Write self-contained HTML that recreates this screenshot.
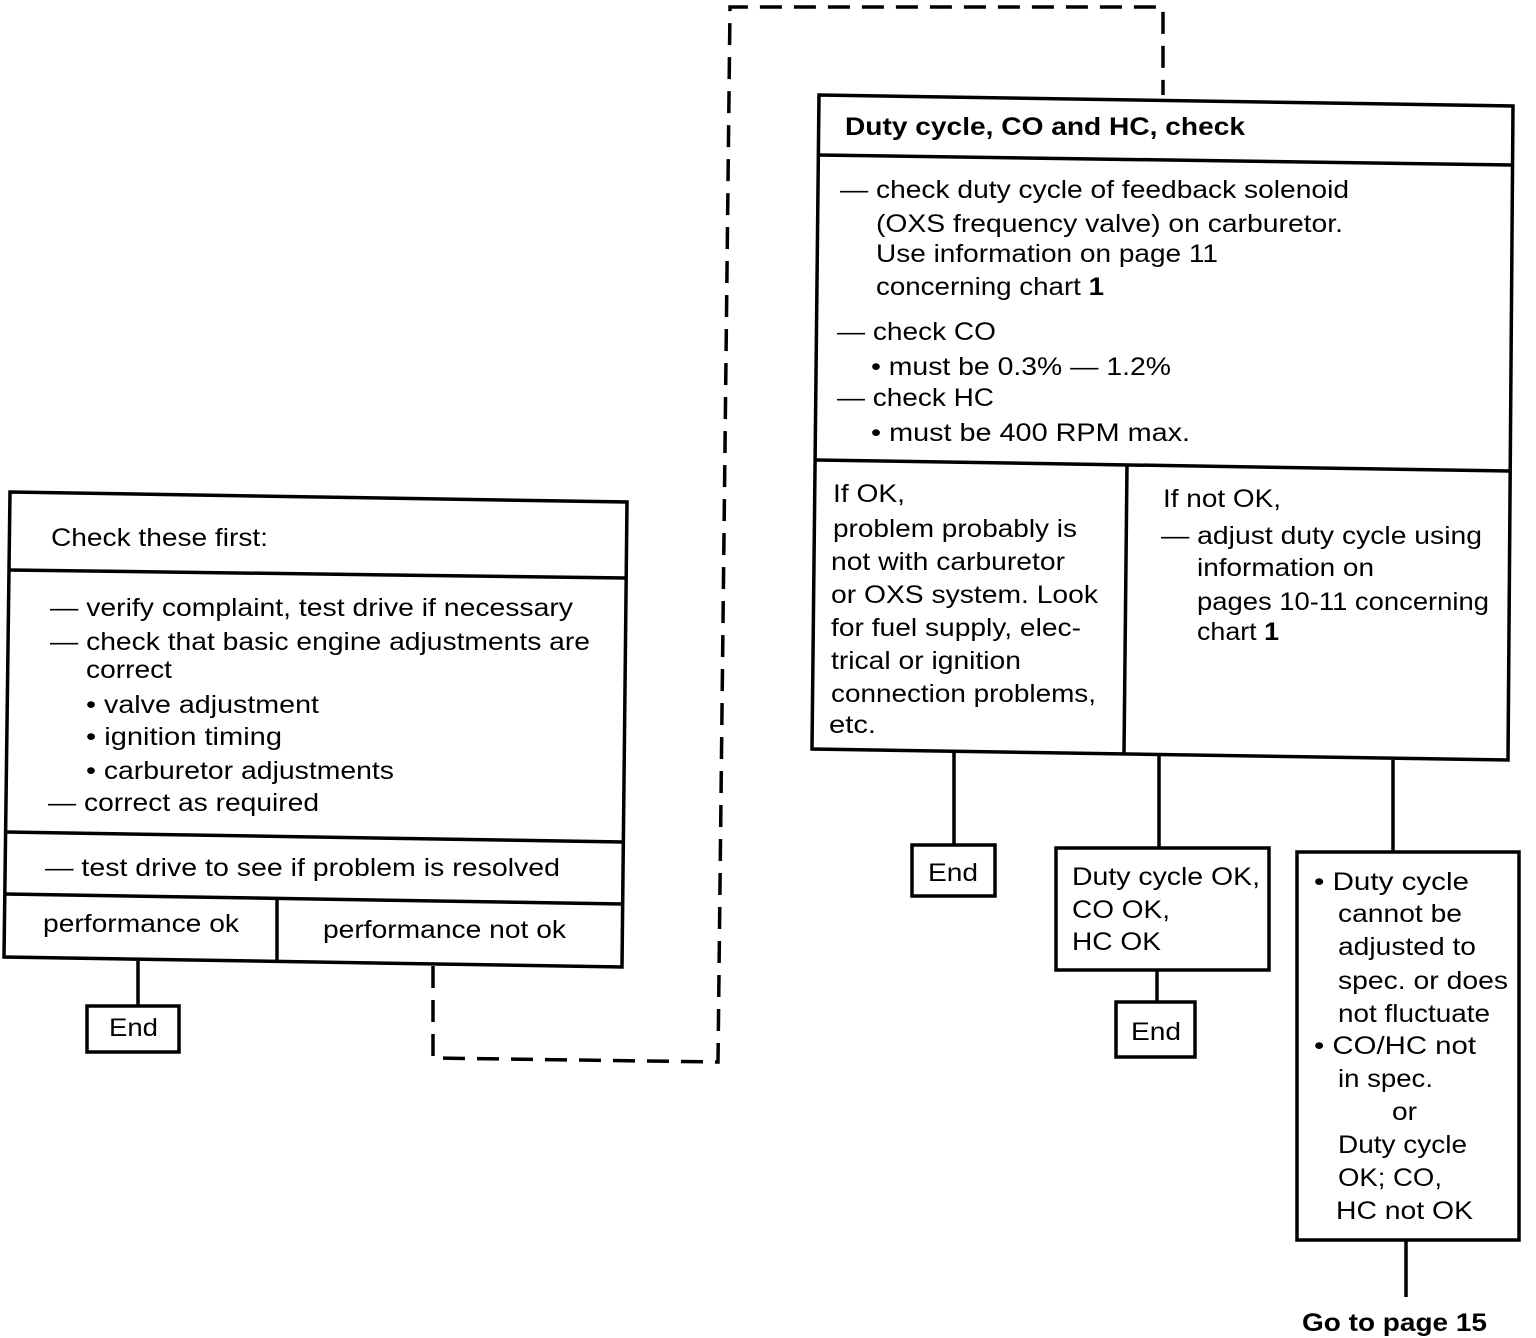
<!DOCTYPE html>
<html><head><meta charset="utf-8"><style>
html,body{margin:0;padding:0;background:#fff;}
svg{display:block}
text{font-family:"Liberation Sans",Arial,sans-serif;font-size:25px;fill:#000}
.b{font-weight:bold}
</style></head><body>
<svg width="1536" height="1338" viewBox="0 0 1536 1338" xmlns="http://www.w3.org/2000/svg">
<g fill="none" stroke="#000" stroke-width="3.5">
<polygon points="10,492 627,502 622,967 4,957"/>
<line x1="9" y1="570" x2="626" y2="578"/>
<line x1="6" y1="832" x2="624" y2="842"/>
<line x1="5" y1="894" x2="623" y2="904"/>
<line x1="277" y1="898" x2="277" y2="962"/>
<line x1="138" y1="961" x2="138" y2="1006"/>
<rect x="87" y="1006" width="92" height="46"/>
<polyline points="433,966 433,1058 718,1062 730,7 1163,7 1163,95" stroke-dasharray="22,12"/>
<polygon points="819,95 1513,106 1508,760 812,749"/>
<line x1="818" y1="155" x2="1512" y2="165"/>
<line x1="816" y1="460" x2="1510" y2="471"/>
<line x1="1127" y1="465" x2="1124" y2="754"/>
<line x1="954" y1="752" x2="954" y2="845"/>
<rect x="912" y="845" width="83" height="51"/>
<line x1="1159" y1="755" x2="1159" y2="848"/>
<rect x="1056" y="848" width="213" height="122"/>
<line x1="1157" y1="970" x2="1157" y2="1002"/>
<rect x="1116" y="1002" width="79" height="55"/>
<line x1="1393" y1="760" x2="1393" y2="852"/>
<rect x="1297" y="852" width="222" height="388"/>
<line x1="1406" y1="1240" x2="1406" y2="1297"/>
</g>
<g lengthAdjust="spacingAndGlyphs">
<text x="51" y="546" textLength="217" lengthAdjust="spacingAndGlyphs">Check these first:</text>
<text x="50" y="616" textLength="523" lengthAdjust="spacingAndGlyphs">— verify complaint, test drive if necessary</text>
<text x="50" y="650" textLength="540" lengthAdjust="spacingAndGlyphs">— check that basic engine adjustments are</text>
<text x="86" y="678" textLength="86" lengthAdjust="spacingAndGlyphs">correct</text>
<text x="86" y="713" textLength="233" lengthAdjust="spacingAndGlyphs">• valve adjustment</text>
<text x="86" y="745" textLength="196" lengthAdjust="spacingAndGlyphs">• ignition timing</text>
<text x="86" y="779" textLength="308" lengthAdjust="spacingAndGlyphs">• carburetor adjustments</text>
<text x="48" y="811" textLength="271" lengthAdjust="spacingAndGlyphs">— correct as required</text>
<text x="45" y="876" textLength="515" lengthAdjust="spacingAndGlyphs">— test drive to see if problem is resolved</text>
<text x="43" y="932" textLength="196" lengthAdjust="spacingAndGlyphs">performance ok</text>
<text x="323" y="938" textLength="243" lengthAdjust="spacingAndGlyphs">performance not ok</text>
<text x="109" y="1036" textLength="49" lengthAdjust="spacingAndGlyphs">End</text>
<text x="845" y="135" class="b" textLength="400" lengthAdjust="spacingAndGlyphs">Duty cycle, CO and HC, check</text>
<text x="840" y="198" textLength="509" lengthAdjust="spacingAndGlyphs">— check duty cycle of feedback solenoid</text>
<text x="876" y="232" textLength="467" lengthAdjust="spacingAndGlyphs">(OXS  frequency valve) on carburetor.</text>
<text x="876" y="262" textLength="342" lengthAdjust="spacingAndGlyphs">Use information on page 11</text>
<text x="876" y="295" textLength="228" lengthAdjust="spacingAndGlyphs">concerning chart <tspan class="b">1</tspan></text>
<text x="837" y="340" textLength="159" lengthAdjust="spacingAndGlyphs">— check CO</text>
<text x="871" y="375" textLength="300" lengthAdjust="spacingAndGlyphs">• must be 0.3% — 1.2%</text>
<text x="837" y="406" textLength="157" lengthAdjust="spacingAndGlyphs">— check HC</text>
<text x="871" y="441" textLength="319" lengthAdjust="spacingAndGlyphs">• must be 400 RPM max.</text>
<text x="833" y="502" textLength="72" lengthAdjust="spacingAndGlyphs">If OK,</text>
<text x="833" y="537" textLength="244" lengthAdjust="spacingAndGlyphs">problem probably is</text>
<text x="831" y="570" textLength="234" lengthAdjust="spacingAndGlyphs">not with carburetor</text>
<text x="831" y="603" textLength="267" lengthAdjust="spacingAndGlyphs">or OXS system. Look</text>
<text x="831" y="636" textLength="250" lengthAdjust="spacingAndGlyphs">for fuel supply, elec-</text>
<text x="831" y="669" textLength="190" lengthAdjust="spacingAndGlyphs">trical or ignition</text>
<text x="831" y="702" textLength="265" lengthAdjust="spacingAndGlyphs">connection problems,</text>
<text x="829" y="733" textLength="47" lengthAdjust="spacingAndGlyphs">etc.</text>
<text x="1163" y="507" textLength="118" lengthAdjust="spacingAndGlyphs">If not OK,</text>
<text x="1161" y="544" textLength="321" lengthAdjust="spacingAndGlyphs">— adjust duty cycle using</text>
<text x="1197" y="576" textLength="177" lengthAdjust="spacingAndGlyphs">information on</text>
<text x="1197" y="610" textLength="292" lengthAdjust="spacingAndGlyphs">pages 10-11 concerning</text>
<text x="1197" y="640" textLength="82" lengthAdjust="spacingAndGlyphs">chart <tspan class="b">1</tspan></text>
<text x="928" y="881" textLength="50" lengthAdjust="spacingAndGlyphs">End</text>
<text x="1072" y="885" textLength="188" lengthAdjust="spacingAndGlyphs">Duty cycle OK,</text>
<text x="1072" y="918" textLength="98" lengthAdjust="spacingAndGlyphs">CO OK,</text>
<text x="1072" y="950" textLength="89" lengthAdjust="spacingAndGlyphs">HC OK</text>
<text x="1131" y="1040" textLength="50" lengthAdjust="spacingAndGlyphs">End</text>
<text x="1314" y="890" textLength="155" lengthAdjust="spacingAndGlyphs">• Duty cycle</text>
<text x="1338" y="922" textLength="124" lengthAdjust="spacingAndGlyphs">cannot be</text>
<text x="1338" y="955" textLength="138" lengthAdjust="spacingAndGlyphs">adjusted to</text>
<text x="1338" y="989" textLength="170" lengthAdjust="spacingAndGlyphs">spec. or does</text>
<text x="1338" y="1022" textLength="152" lengthAdjust="spacingAndGlyphs">not fluctuate</text>
<text x="1314" y="1054" textLength="162" lengthAdjust="spacingAndGlyphs">• CO/HC not</text>
<text x="1338" y="1087" textLength="95" lengthAdjust="spacingAndGlyphs">in spec.</text>
<text x="1392" y="1120" textLength="25" lengthAdjust="spacingAndGlyphs">or</text>
<text x="1338" y="1153" textLength="129" lengthAdjust="spacingAndGlyphs">Duty cycle</text>
<text x="1338" y="1186" textLength="104" lengthAdjust="spacingAndGlyphs">OK; CO,</text>
<text x="1336" y="1219" textLength="137" lengthAdjust="spacingAndGlyphs">HC not OK</text>
<text x="1302" y="1331" class="b" textLength="185" lengthAdjust="spacingAndGlyphs">Go to page 15</text>
</g>
</svg>
</body></html>
